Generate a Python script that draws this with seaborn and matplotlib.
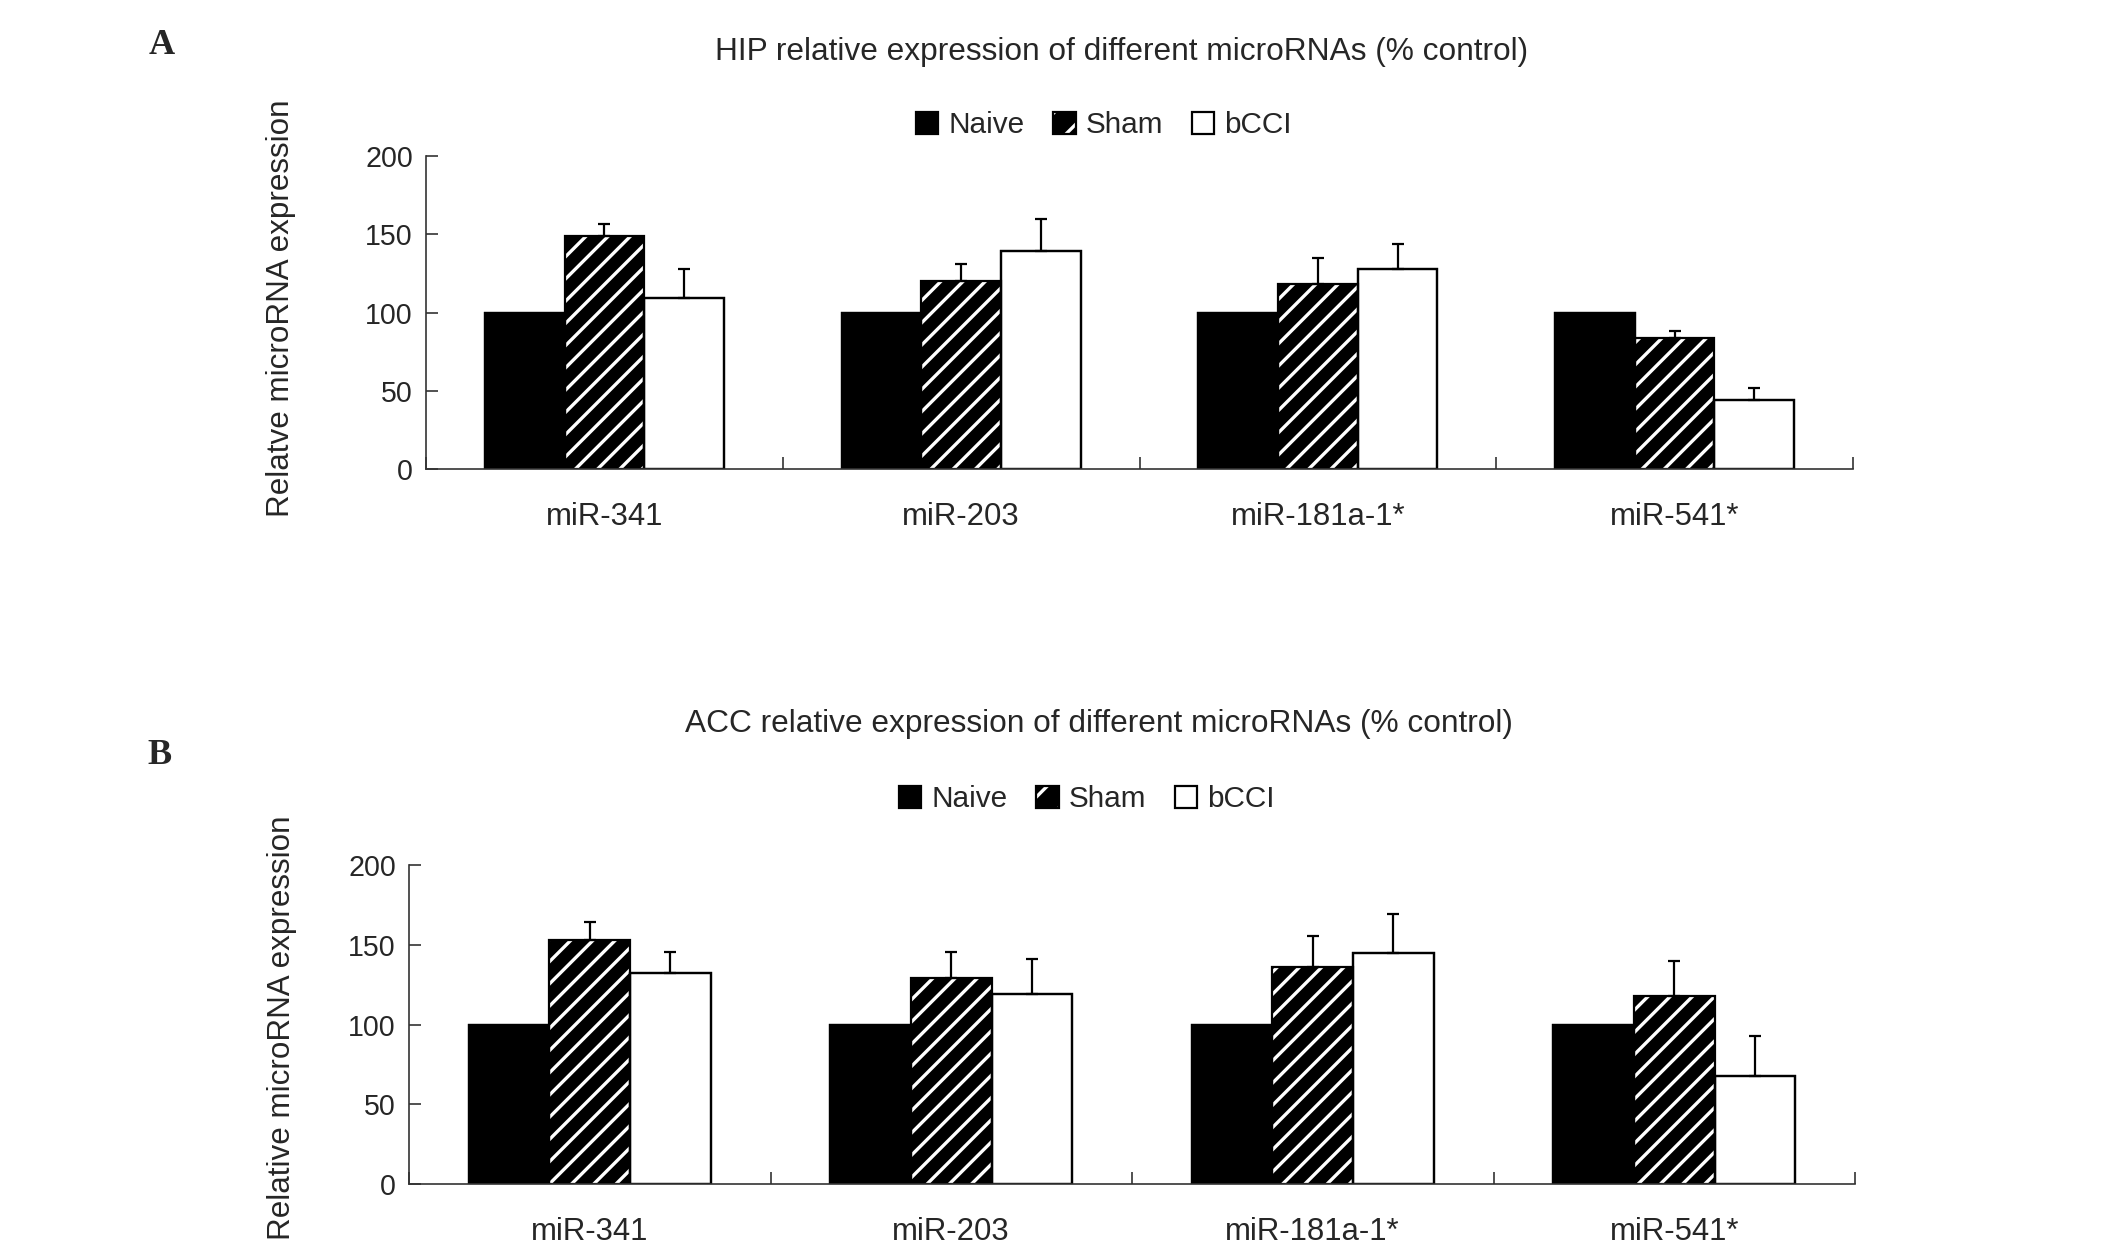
import numpy as np
import pandas as pd
import matplotlib
matplotlib.use('Agg')
import matplotlib.pyplot as plt
import seaborn as sns
from matplotlib.patches import Patch

# ---- data ----
mirnas = ['miR-341', 'miR-203', 'miR-181a-1*', 'miR-541*']
groups = ['Naive', 'Sham', 'bCCI']

hip_naive = [100, 100, 100, 100]
hip_sham = [149, 120, 118, 84]
hip_bcci = [109, 139, 127.5, 44]
hip_sham_err = [7.5, 11, 17, 4]
hip_bcci_err = [18.5, 21, 16.5, 7.5]

acc_naive = [100, 100, 100, 100]
acc_sham = [153, 129, 136, 118]
acc_bcci = [132.5, 119, 145, 67.5]
acc_sham_err = [11, 16.5, 19.5, 22]
acc_bcci_err = [13, 22, 24.5, 25.5]

hip_title = 'HIP relative expression of different microRNAs (% control)'
acc_title = 'ACC relative expression of different microRNAs (% control)'

sns.set_style('ticks')
plt.rcParams['font.family'] = ['Liberation Sans', 'DejaVu Sans']
plt.rcParams['hatch.linewidth'] = 1.2

W, H = 2126, 1250
fig = plt.figure(figsize=(W / 200, H / 200), dpi=200)


def make_df(naive, sham, bcci):
    rows = []
    for vals, g in zip([naive, sham, bcci], groups):
        for m, v in zip(mirnas, vals):
            rows.append({'mirna': m, 'group': g, 'value': v})
    return pd.DataFrame(rows)


def draw_panel(rect, df, sham_err, bcci_err, ylabel, label_xy):
    ax = fig.add_axes(rect)
    pal = {'Naive': 'black', 'Sham': 'black', 'bCCI': 'white'}
    sns.barplot(data=df, x='mirna', y='value', hue='group', order=mirnas,
                hue_order=groups, palette=pal, saturation=1, errorbar=None,
                width=0.67, edgecolor='black', linewidth=0.8, legend=False, ax=ax)
    # stripes on sham bars
    for p in ax.containers[1]:
        p.set_hatch('///')
        p.set_edgecolor('white')
        p.set_linewidth(0)
    # black outline on top of everything
    sns.barplot(data=df, x='mirna', y='value', hue='group', order=mirnas,
                hue_order=groups, palette={g: 'black' for g in groups},
                fill=False, errorbar=None, width=0.67, linewidth=0.8,
                legend=False, ax=ax)

    # upper-only error bars
    for idx, err in [(1, sham_err), (2, bcci_err)]:
        bars = ax.containers[idx]
        xs = [b.get_x() + b.get_width() / 2 for b in bars]
        ys = [b.get_height() for b in bars]
        ax.errorbar(xs, ys, yerr=[np.zeros(len(err)), err], fmt='none',
                    ecolor='black', elinewidth=0.8, capsize=2.2, capthick=0.8,
                    zorder=5)

    ax.set_ylim(0, 200)
    ax.set_xlim(-0.5, 3.5)
    ax.set_yticks([0, 50, 100, 150, 200])
    ax.set_xticks(range(len(mirnas)))
    ax.set_xticklabels(mirnas)
    ax.set_xticks(np.arange(-0.5, 4, 1), minor=True)
    ax.tick_params(axis='x', which='major', length=0, pad=12, labelsize=11.2)
    ax.tick_params(axis='x', which='minor', direction='in', length=4.3,
                   width=0.6, color='#333333')
    ax.tick_params(axis='y', direction='in', length=4.3, width=0.6,
                   color='#333333', pad=4.7, labelsize=10.3)
    sns.despine(ax=ax)
    for s in ['left', 'bottom']:
        ax.spines[s].set_color('#333333')
        ax.spines[s].set_linewidth(0.6)
    ax.set_xlabel('')
    ax.set_ylabel(ylabel, fontsize=11.3)
    ax.yaxis.label.set_verticalalignment('center')
    ax.yaxis.set_label_coords(*label_xy)
    return ax


def legend_for(ax, center):
    handles = [
        Patch(facecolor='black', edgecolor='black', linewidth=0.8),
        (Patch(facecolor='black', edgecolor='white', hatch='//', linewidth=0),
         Patch(fill=False, edgecolor='black', linewidth=0.8)),
        Patch(facecolor='white', edgecolor='black', linewidth=0.8),
    ]
    ax.legend(handles, groups, loc='center', ncol=3, frameon=False,
              bbox_to_anchor=center, bbox_transform=fig.transFigure,
              fontsize=10.7, handlelength=0.75, handleheight=0.75,
              handletextpad=0.35, columnspacing=0.95, borderpad=0)


# ---- panel A (HIP) ----
df_hip = make_df(hip_naive, hip_sham, hip_bcci)
rect_a = [426 / W, 1 - 469 / H, (1853 - 426) / W, (469 - 156) / H]
ax_a = draw_panel(rect_a, df_hip, hip_sham_err, hip_bcci_err,
                  'Relatve microRNA expression', (-0.1016, 0.514))
legend_for(ax_a, (1104 / W, 1 - 125 / H))
fig.text(1122 / W, 1 - 52 / H, hip_title, ha='center', va='center', fontsize=11.4)
fig.text(162 / W, 1 - 46 / H, 'A', ha='center', va='center', fontsize=13,
         fontweight='bold', family='Liberation Serif')

# ---- panel B (ACC) ----
df_acc = make_df(acc_naive, acc_sham, acc_bcci)
rect_b = [409 / W, 1 - 1184 / H, (1855 - 409) / W, (1184 - 865) / H]
ax_b = draw_panel(rect_b, df_acc, acc_sham_err, acc_bcci_err,
                  'Relative microRNA expression', (-0.0878, 0.489))
legend_for(ax_b, (1087 / W, 1 - 799 / H))
fig.text(1099 / W, 1 - 724 / H, acc_title, ha='center', va='center', fontsize=11.4)
fig.text(160 / W, 1 - 756 / H, 'B', ha='center', va='center', fontsize=13,
         fontweight='bold', family='Liberation Serif')

fig.savefig('out.png', dpi=200, facecolor='white')
